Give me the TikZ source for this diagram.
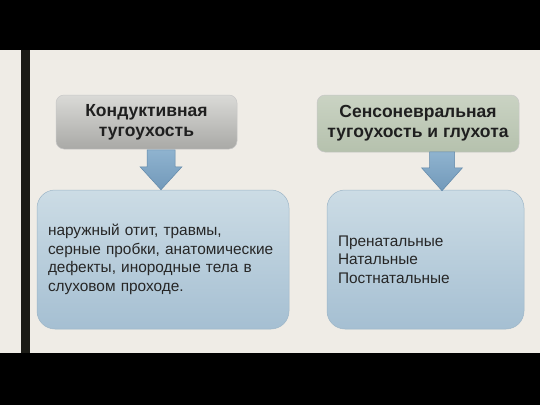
\documentclass[tikz,border=0pt]{standalone}
\usepackage{fontspec}
\setmainfont{Liberation Sans}
\usetikzlibrary{calc}
\definecolor{bgcol}{HTML}{EFECE6}
\definecolor{barcol}{HTML}{1B1B16}
\definecolor{graytop}{HTML}{DADAD7}
\definecolor{graybot}{HTML}{A9A9A6}
\definecolor{greentop}{HTML}{CAD3C3}
\definecolor{greenbot}{HTML}{B5C1AD}
\definecolor{bluetop}{HTML}{CCDCE5}
\definecolor{bluebot}{HTML}{A5BFD2}
\definecolor{bluebord}{HTML}{9DB6C8}
\definecolor{arrowtop}{HTML}{8FB3CF}
\definecolor{arrowbot}{HTML}{7299BA}
\definecolor{arrowbord}{HTML}{5F87A8}
\begin{document}
\begin{tikzpicture}[x=1pt,y=-1pt,
  headbox/.style={rounded corners=8pt,draw=black!22,line width=0.5pt,inner sep=0pt,
    align=center,text=black!88,font=\fontsize{17.5}{20}\selectfont\bfseries},
  infobox/.style={rounded corners=18pt,draw=bluebord,line width=0.5pt,top color=bluetop,
    bottom color=bluebot,minimum height=139pt,inner sep=11pt,align=left,
    text=black!85,font=\fontsize{15.4}{18.5}\selectfont},
  downarrow/.style={draw=arrowbord,line width=0.5pt,top color=arrowtop,bottom color=arrowbot}]
 \useasboundingbox (0,0) rectangle (540,405);
 \fill[bgcol] (0,0) rectangle (540,405);
 \fill[black] (0,0) rectangle (540,50);
 \fill[black] (0,353) rectangle (540,405);
 \fill[barcol] (21,50) rectangle (30,353);
 % top boxes
 \node[headbox,top color=graytop,bottom color=graybot,minimum width=181pt,minimum height=54pt]
   (kond) at (146.5,122) {Кондуктивная\\тугоухость};
 \node[headbox,top color=greentop,bottom color=greenbot,minimum width=202pt,minimum height=57pt]
   (sens) at (418,123.5) {Сенсоневральная\\тугоухость и глухота};
 % bottom boxes
 \node[infobox,text width=230pt] (kondinfo) at (163,259.5)
   {наружный отит, травмы,\\серные пробки, анатомические\\дефекты, инородные тела в\\слуховом проходе.};
 \node[infobox,text width=175pt] (sensinfo) at (425.5,259.5)
   {Пренатальные\\Натальные\\Постнатальные};
 % arrows
 \draw[downarrow] ($(kondinfo.north)+(-2,0)$) -- ++(-21,-23) -- ++(7,0) -- ++(0,-17)
   -- ++(28,0) -- ++(0,17) -- ++(7,0) -- cycle;
 \draw[downarrow] ($(sensinfo.north)+(16.5,1)$) -- ++(-20.5,-23) -- ++(8,0) -- ++(0,-16)
   -- ++(25,0) -- ++(0,16) -- ++(8,0) -- cycle;
\end{tikzpicture}
\end{document}
